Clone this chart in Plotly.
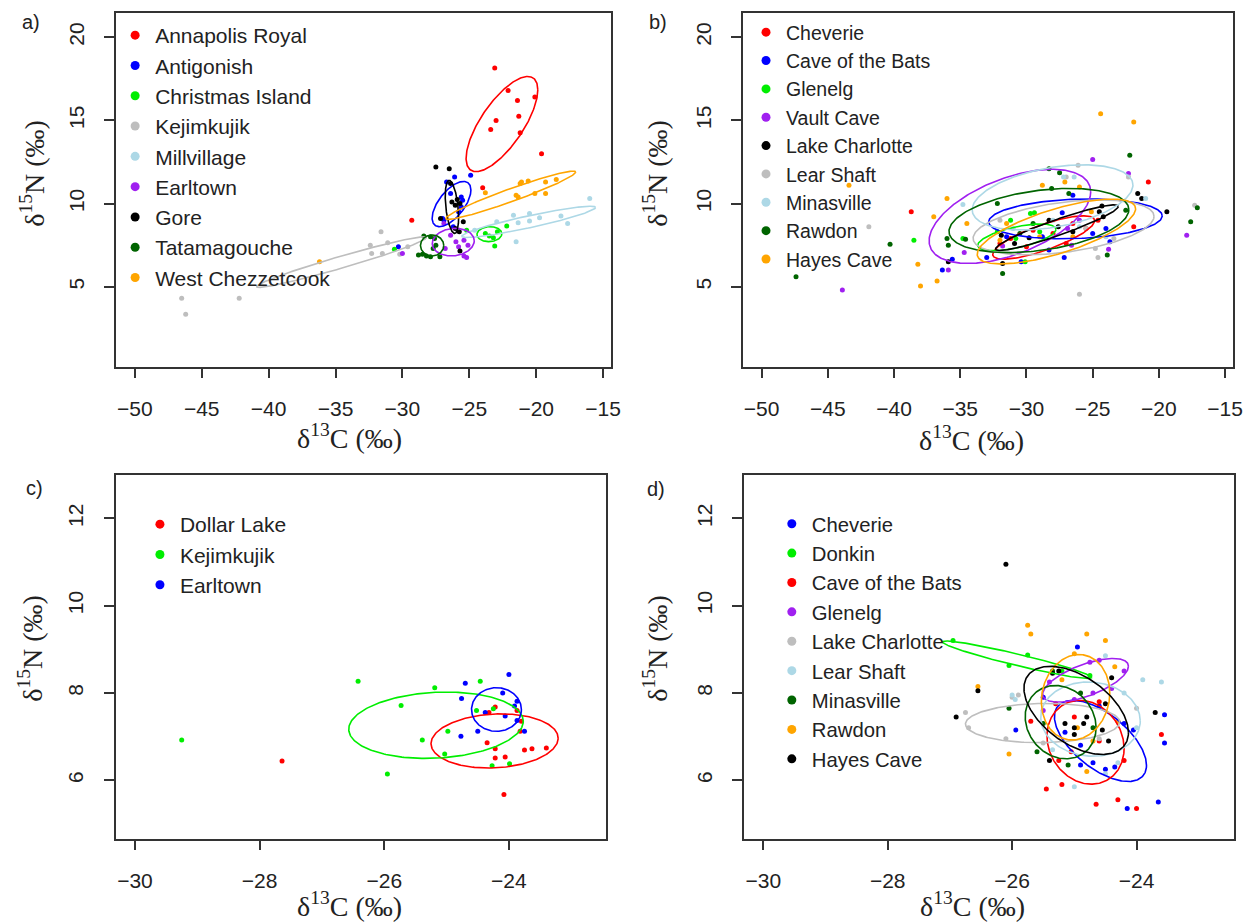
import numpy as np
import plotly.graph_objects as go

# page body has an 8px margin, so the figure is sized to fill the window from (8, 8)
OFF = 8
W, H = 1244, 916

# ---------------- Panel a ----------------
a_names = ["Annapolis Royal", "Antigonish", "Christmas Island", "Kejimkujik", "Millvillage",
           "Earltown", "Gore", "Tatamagouche", "West Chezzetcook"]
a_colors = ["#FF0000", "#0000FF", "#00EE00", "#BEBEBE", "#ADD8E6", "#A020F0", "#000000", "#006400", "#FFA500"]
a_x = [
    [-23.1, -22.1, -21.4, -20.1, -21.3, -23.0, -23.4, -21.2, -19.6, -24.0, -29.3],
    [-26.7, -26.1, -24.9, -26.4, -25.6, -25.5, -25.6, -25.8, -27.0, -26.9, -26.2, -30.3],
    [-30.6, -25.2, -22.2, -23.1, -23.5, -23.2, -23.8, -22.9],
    [-46.5, -46.2, -42.2, -31.6, -32.4, -31.1, -32.3, -31.5, -29.6, -30.2],
    [-16.0, -21.7, -20.5, -19.75, -21.35, -20.5, -18.15, -17.65, -22.95, -21.5, -24.6],
    [-26.9, -26.4, -26.0, -25.4, -25.1, -25.8, -25.4, -25.2, -30.0, -26.8],
    [-27.5, -26.5, -26.4, -26.3, -25.9, -25.7, -26.05, -27.15, -25.45, -26.05, -25.75, -25.7],
    [-28.4, -27.9, -27.6, -27.5, -28.5, -28.2, -27.9, -28.8, -27.2, -27.7],
    [-36.2, -23.8, -21.2, -21.1, -20.6, -19.3, -18.5, -21.5, -21.35, -20.1, -19.3],
]
a_y = [
    [18.15, 16.8, 16.2, 16.4, 15.25, 15.0, 14.45, 14.25, 13.0, 10.95, 9.0],
    [11.3, 11.6, 11.7, 10.6, 10.4, 10.2, 9.8, 9.5, 9.1, 9.0, 8.6, 7.4],
    [7.25, 8.4, 8.65, 7.45, 8.05, 7.95, 8.2, 8.3],
    [4.3, 3.35, 4.3, 8.3, 7.5, 7.65, 7.0, 7.0, 7.4, 6.95],
    [10.3, 9.3, 9.4, 9.15, 8.85, 8.95, 9.25, 8.8, 8.9, 7.7, 8.4],
    [8.8, 8.1, 7.7, 7.8, 7.5, 7.4, 6.85, 6.75, 7.0, 7.3],
    [12.2, 12.1, 11.2, 10.1, 10.25, 10.0, 9.9, 9.1, 8.9, 8.5, 8.3, 7.15],
    [8.05, 8.0, 7.9, 7.5, 6.95, 6.85, 6.8, 6.9, 6.8, 7.3],
    [6.5, 10.65, 11.2, 11.3, 11.35, 11.3, 11.45, 10.5, 10.4, 10.6, 10.6],
]
# standard ellipse parameters: centre x, centre y, half x-extent, half y-extent, correlation
a_ell_cx = [-22.56, -26.33, -23.5, -34.55, -20.56, -26.2, -26.3, -27.78, -21.9]
a_ell_cy = [14.78, 9.97, 8.16, 6.48, 8.9, 7.68, 9.8, 7.48, 10.5]
a_ell_hx = [2.68, 1.45, 0.93, 6.35, 5.0, 1.57, 0.5, 0.87, 4.85]
a_ell_hy = [2.86, 1.36, 0.45, 1.52, 0.94, 0.83, 1.6, 0.63, 1.45]
a_ell_r = [0.72, 0.62, 0.05, 0.97, 0.92, 0.1, -0.4, 0.0, 0.96]

# ---------------- Panel b ----------------
b_names = ["Cheverie", "Cave of the Bats", "Glenelg", "Vault Cave", "Lake Charlotte",
           "Lear Shaft", "Minasville", "Rawdon", "Hayes Cave"]
b_colors = ["#FF0000", "#0000FF", "#00EE00", "#A020F0", "#000000", "#BEBEBE", "#ADD8E6", "#006400", "#FFA500"]
b_x = [
    [-38.7, -20.8, -21.9, -24.6, -26.5, -31.2, -29.5, -28.0, -30.0, -27.0, -25.5, -32.0],
    [-36.35, -35.6, -33.0, -30.4, -28.3, -27.15, -24.0, -23.7, -27.3, -26.5, -28.8, -31.5, -25.0],
    [-38.5, -31.2, -29.7, -29.4, -30.8, -30.1, -34.8, -32.2, -29.0],
    [-43.9, -25.0, -22.3, -17.9, -23.8, -31.8, -34.7, -35.9, -26.0, -26.9, -26.6],
    [-35.9, -21.6, -21.3, -19.4, -24.3, -24.2, -27.6, -28.3, -29.8, -30.9, -31.9, -31.8, -26.5, -24.5],
    [-41.9, -26.1, -22.3, -26.0, -24.6, -24.8, -17.3, -32.0, -25.5, -23.4, -28.0, -27.0],
    [-34.8, -27.2, -26.4, -21.0, -26.0, -28.0, -24.0, -31.0],
    [-47.4, -40.3, -35.9, -34.6, -32.2, -28.3, -27.5, -26.8, -28.1, -22.2, -22.5, -17.1, -17.6, -23.9,
     -31.8, -30.5, -29.5, -36.0],
    [-43.4, -36.0, -37.0, -38.2, -38.0, -36.75, -34.5, -28.8, -27.1, -26.0, -25.1, -31.5, -24.4, -21.9,
     -29.0, -26.5, -32.0],
]
b_y = [
    [9.5, 11.3, 8.6, 9.0, 8.8, 7.9, 8.4, 8.2, 7.4, 7.6, 8.5, 7.6],
    [6.0, 6.65, 6.75, 6.5, 7.2, 6.75, 8.5, 7.7, 9.45, 10.5, 8.0, 8.0, 8.2],
    [7.8, 9.0, 9.4, 9.45, 7.9, 6.5, 7.9, 8.3, 8.3],
    [4.8, 12.65, 11.8, 8.1, 7.25, 7.45, 7.05, 6.0, 9.0, 8.5, 7.5],
    [6.5, 10.6, 10.3, 9.5, 9.85, 9.2, 8.6, 9.0, 7.95, 7.6, 8.1, 6.4, 8.3, 9.5],
    [8.6, 12.3, 11.6, 4.55, 6.75, 7.3, 9.9, 9.0, 8.5, 7.9, 8.0, 11.6],
    [9.95, 11.6, 11.6, 10.3, 8.6, 9.0, 8.0, 8.5],
    [5.6, 7.55, 7.5, 7.85, 10.0, 12.1, 11.85, 10.6, 10.9, 12.9, 9.6, 9.75, 8.9, 6.9, 5.8, 8.2, 8.8, 7.9],
    [11.1, 10.3, 9.2, 6.35, 5.05, 5.35, 8.8, 11.1, 11.3, 11.0, 9.5, 8.8, 15.4, 14.9, 8.0, 8.0, 7.8],
]
b_ell_cx = [-28.7, -26.3, -30.73, -31.25, -27.7, -27.2, -28.03, -29.06, -27.74]
b_ell_cy = [7.96, 9.08, 7.97, 9.23, 8.55, 8.57, 10.37, 8.98, 8.32]
b_ell_hx = [3.85, 6.55, 2.95, 6.1, 4.63, 6.83, 6.07, 6.79, 5.98]
b_ell_hy = [1.3, 1.2, 0.8, 2.83, 1.37, 1.65, 1.96, 1.93, 1.95]
b_ell_r = [0.78, 0.15, 0.6, 0.52, 0.93, 0.4, 0.38, 0.34, 0.7]

# ---------------- Panel c ----------------
c_names = ["Dollar Lake", "Kejimkujik", "Earltown"]
c_colors = ["#FF0000", "#00EE00", "#0000FF"]
c_x = [
    [-27.64, -24.08, -24.22, -24.06, -24.22, -24.35, -23.75, -23.63, -23.4, -23.82, -23.8, -23.87, -24.22, -24.32],
    [-29.25, -26.42, -25.95, -25.73, -25.39, -25.19, -24.98, -25.03, -24.46, -24.52, -24.25, -24.27, -23.99],
    [-24.7, -24.0, -24.76, -24.1, -24.38, -23.91, -23.87, -24.06, -23.87, -23.75, -24.5, -24.77],
]
c_y = [
    [6.44, 5.67, 6.51, 6.53, 6.72, 6.86, 6.69, 6.72, 6.74, 7.12, 7.35, 7.6, 7.68, 7.55],
    [6.92, 8.27, 6.14, 7.71, 6.92, 8.12, 7.12, 6.6, 8.27, 7.6, 7.64, 6.33, 6.38],
    [8.22, 8.42, 7.87, 8.0, 7.55, 7.7, 7.81, 7.47, 7.37, 7.12, 7.12, 7.01],
]
c_ell_cx = [-24.23, -25.17, -24.2]
c_ell_cy = [6.9, 7.26, 7.62]
c_ell_hx = [1.02, 1.4, 0.4]
c_ell_hy = [0.62, 0.76, 0.5]
c_ell_r = [0.1, 0.12, 0.0]

# ---------------- Panel d ----------------
d_names = ["Cheverie", "Donkin", "Cave of the Bats", "Glenelg", "Lake Charlotte",
           "Lear Shaft", "Minasville", "Rawdon", "Hayes Cave"]
d_colors = ["#0000FF", "#00EE00", "#FF0000", "#A020F0", "#BEBEBE", "#ADD8E6", "#006400", "#FFA500", "#000000"]
d_x = [
    [-24.95, -25.94, -25.15, -24.9, -24.7, -24.5, -24.35, -24.9, -24.2, -24.05, -23.55, -23.55, -23.65, -24.15, -25.5, -24.6],
    [-26.95, -25.75, -26.05, -25.2, -24.75],
    [-25.45, -25.2, -24.65, -24.3, -24.0, -23.6, -25.0, -24.6, -25.25, -25.05, -24.2, -24.6, -25.7, -25.3],
    [-25.4, -24.75, -24.6, -24.2, -24.4, -24.7, -25.0, -25.5],
    [-26.75, -26.7, -26.1, -25.5, -26.0, -24.0, -24.3, -24.6, -25.9],
    [-24.5, -23.9, -23.6, -26.0, -25.95, -25.0, -24.5, -24.3, -24.2, -25.35, -24.0],
    [-26.05, -25.6, -25.1, -25.35, -24.9, -25.5, -24.7],
    [-25.75, -25.7, -24.8, -24.5, -24.35, -25.0, -26.55, -26.05, -24.95, -24.7, -24.3, -24.8, -25.2],
    [-26.1, -26.55, -26.9, -23.7, -25.4, -25.25, -24.4, -25.15, -25.0, -24.85, -24.8, -25.0, -24.55, -24.45, -24.5, -25.35],
]
d_y = [
    [9.05, 7.15, 7.1, 6.8, 6.4, 6.25, 6.3, 6.35, 7.3, 7.15, 7.5, 6.85, 5.5, 5.35, 7.9, 7.7],
    [9.2, 8.87, 8.63, 8.5, 8.4],
    [5.8, 5.9, 5.45, 5.55, 5.35, 7.05, 7.45, 7.8, 6.45, 6.65, 6.45, 6.9, 7.35, 7.75],
    [8.25, 8.7, 8.75, 8.5, 8.1, 8.0, 7.85, 7.6],
    [7.55, 7.2, 6.95, 6.85, 7.9, 7.65, 7.35, 6.95, 7.95],
    [8.85, 8.3, 8.25, 7.95, 7.85, 5.85, 6.15, 6.4, 8.0, 6.7, 7.2],
    [7.65, 6.65, 6.35, 8.5, 8.0, 7.3, 7.2],
    [9.55, 9.35, 9.35, 9.2, 8.6, 8.9, 8.15, 6.6, 7.2, 6.9, 7.35, 6.2, 8.3],
    [10.95, 8.05, 7.45, 7.55, 6.45, 8.5, 8.35, 7.3, 7.2, 7.3, 7.45, 7.05, 7.15, 6.9, 7.75, 8.45],
]
d_ell_cx = [-24.58, -25.92, -24.82, -24.82, -25.51, -24.74, -25.22, -24.98, -24.97]
d_ell_cy = [6.9, 8.76, 6.87, 8.29, 7.31, 7.4, 7.33, 7.9, 7.6]
d_ell_hx = [0.74, 1.2, 0.62, 0.69, 1.24, 0.8, 0.57, 0.55, 0.84]
d_ell_hy = [0.93, 0.43, 0.96, 0.5, 0.45, 0.85, 0.84, 0.98, 1.01]
d_ell_r = [-0.6, -0.95, -0.15, 0.64, 0.05, -0.05, -0.15, 0.1, -0.5]

# tick labels
ab_xticks = [-50, -45, -40, -35, -30, -25, -20, -15]
ab_yticks = [5, 10, 15, 20]
cd_xticks = [-30, -28, -26, -24]
cd_yticks = [6, 8, 10, 12]

# ---------------- figure ----------------
fig = go.Figure()


def ellipse(cx, cy, hx, hy, r, n=240):
    t = np.linspace(0, 2 * np.pi, n)
    ex = cx + hx * np.cos(t)
    ey = cy + hy * (r * np.cos(t) + np.sqrt(1 - r * r) * np.sin(t))
    return ex, ey


panels = [
    ("x", "y", "legend", a_names, a_colors, a_x, a_y, a_ell_cx, a_ell_cy, a_ell_hx, a_ell_hy, a_ell_r),
    ("x2", "y2", "legend2", b_names, b_colors, b_x, b_y, b_ell_cx, b_ell_cy, b_ell_hx, b_ell_hy, b_ell_r),
    ("x3", "y3", "legend3", c_names, c_colors, c_x, c_y, c_ell_cx, c_ell_cy, c_ell_hx, c_ell_hy, c_ell_r),
    ("x4", "y4", "legend4", d_names, d_colors, d_x, d_y, d_ell_cx, d_ell_cy, d_ell_hx, d_ell_hy, d_ell_r),
]

for xa, ya, lg, names, cols, xs, ys, ecx, ecy, ehx, ehy, er in panels:
    for i, nm in enumerate(names):
        fig.add_trace(go.Scatter(x=xs[i], y=ys[i], mode="markers", xaxis=xa, yaxis=ya,
                                 marker=dict(color=cols[i], size=5), showlegend=False, hoverinfo="skip"))
    for i, nm in enumerate(names):
        ex, ey = ellipse(ecx[i], ecy[i], ehx[i], ehy[i], er[i])
        fig.add_trace(go.Scatter(x=ex, y=ey, mode="lines", xaxis=xa, yaxis=ya,
                                 line=dict(color=cols[i], width=1.6), showlegend=False, hoverinfo="skip"))
    for i, nm in enumerate(names):
        fig.add_trace(go.Scatter(x=[None], y=[None], mode="markers", xaxis=xa, yaxis=ya, name=nm,
                                 legend=lg, marker=dict(color=cols[i], size=9), showlegend=True))


def px_x(p):
    return (p - OFF) / W


def px_y(p):
    return 1 - (p - OFF) / H


axis_common = dict(showline=True, mirror=True, linecolor="#333333", linewidth=1.5,
                   ticks="outside", ticklen=10, tickwidth=1.5, tickcolor="#333333",
                   showgrid=False, zeroline=False,
                   tickfont=dict(family="Liberation Sans, Arial", size=21, color="#222222"),
                   ticklabelstandoff=12)

boxes = {
    "a": (117, 616, 13.3, 366.7),
    "b": (749, 1243, 13.3, 366.7),
    "c": (116.5, 611, 474.7, 838.7),
    "d": (750, 1243.5, 474.7, 838.7),
}


def dom_x(k):
    l, r, t, b = boxes[k]
    return [px_x(l), px_x(r)]


def dom_y(k):
    l, r, t, b = boxes[k]
    return [px_y(b), px_y(t)]


fig.update_layout(
    width=W, height=H, margin=dict(l=0, r=0, t=0, b=0),
    paper_bgcolor="white", plot_bgcolor="white", showlegend=True,
    xaxis=dict(domain=dom_x("a"), anchor="y", range=[-51.4, -14.4], tickvals=ab_xticks, **axis_common),
    yaxis=dict(domain=dom_y("a"), anchor="x", range=[0.19, 21.44], tickvals=ab_yticks, tickangle=-90, **axis_common),
    xaxis2=dict(domain=dom_x("b"), anchor="y2", range=[-51.4, -14.4], tickvals=ab_xticks, **axis_common),
    yaxis2=dict(domain=dom_y("b"), anchor="x2", range=[0.19, 21.44], tickvals=ab_yticks, tickangle=-90, **axis_common),
    xaxis3=dict(domain=dom_x("c"), anchor="y3", range=[-30.31, -22.44], tickvals=cd_xticks, **axis_common),
    yaxis3=dict(domain=dom_y("c"), anchor="x3", range=[4.66, 13.0], tickvals=cd_yticks, tickangle=-90, **axis_common),
    xaxis4=dict(domain=dom_x("d"), anchor="y4", range=[-30.31, -22.44], tickvals=cd_xticks, **axis_common),
    yaxis4=dict(domain=dom_y("d"), anchor="x4", range=[4.66, 13.0], tickvals=cd_yticks, tickangle=-90, **axis_common),
)

leg_common = dict(bgcolor="rgba(0,0,0,0)", borderwidth=0, xanchor="left", yanchor="top",
                  itemclick=False, itemdoubleclick=False)
lf = "Liberation Sans, Arial"
fig.update_layout(
    legend=dict(x=px_x(116), y=px_y(15), font=dict(family=lf, size=21, color="#222222"), **leg_common),
    legend2=dict(x=px_x(752), y=px_y(13), font=dict(family=lf, size=19.5, color="#222222"), **leg_common),
    legend3=dict(x=px_x(141), y=px_y(504), font=dict(family=lf, size=21, color="#222222"), **leg_common),
    legend4=dict(x=px_x(778), y=px_y(504), font=dict(family=lf, size=20.3, color="#222222"), **leg_common),
)

title_font = dict(family="Liberation Serif, Times New Roman", size=28, color="#222222")
xt = "δ<sup>13</sup>C (‰)"
yt = "δ<sup>15</sup>N (‰)"
ann = []
for (xp, yp) in [(352, 436), (979, 438), (352, 904), (980, 904)]:
    ann.append(dict(text=xt, x=px_x(xp), y=px_y(yp), xref="paper", yref="paper", showarrow=False,
                    xanchor="center", yanchor="middle", font=title_font))
for (xp, yp) in [(32, 173), (660, 173), (30, 648), (660, 648)]:
    ann.append(dict(text=yt, x=px_x(xp), y=px_y(yp), xref="paper", yref="paper", showarrow=False,
                    xanchor="center", yanchor="middle", textangle=-90, font=title_font))
lab_font = dict(family="Liberation Sans, Arial", size=20, color="#222222")
for (t, xp, yp) in [("a)", 31, 22), ("b)", 663, 22), ("c)", 35, 488), ("d)", 661, 489)]:
    ann.append(dict(text=t, x=px_x(xp), y=px_y(yp), xref="paper", yref="paper", showarrow=False,
                    xanchor="center", yanchor="middle", font=lab_font))
fig.update_layout(annotations=ann)

fig.write_html("out.html")
